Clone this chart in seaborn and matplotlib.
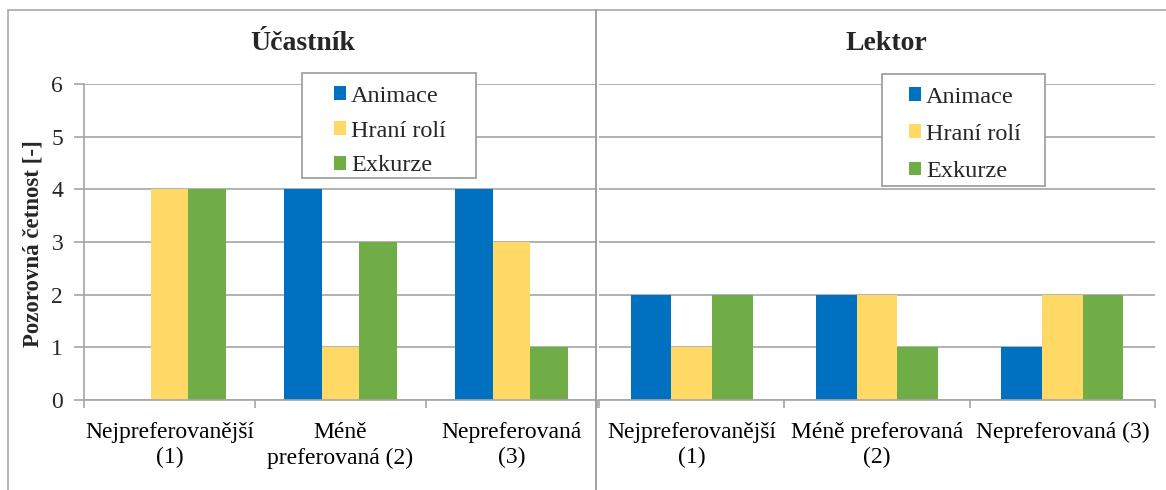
import matplotlib
matplotlib.use("Agg")
import matplotlib.pyplot as plt
import seaborn as sns
import pandas as pd
from matplotlib.lines import Line2D
from matplotlib.patches import Rectangle, Patch

# ---- data ----
series = ["Animace", "Hraní rolí", "Exkurze"]
left_categories = ["Nejpreferovanější\n(1)", "Méně\npreferovaná (2)", "Nepreferovaná\n(3)"]
right_categories = ["Nejpreferovanější\n(1)", "Méně preferovaná\n(2)", "Nepreferovaná (3)"]
ucastnik_animace = [0, 4, 4]
ucastnik_hrani = [4, 1, 3]
ucastnik_exkurze = [4, 3, 1]
lektor_animace = [2, 2, 1]
lektor_hrani = [1, 2, 2]
lektor_exkurze = [2, 1, 2]
titles = ["Účastník", "Lektor"]
ylabel = "Pozorovná četnost [-]"
yticks = [0, 1, 2, 3, 4, 5, 6]
colors = ["#0070C0", "#FFD966", "#70AD47"]


def long_df(cats, vals):
    rows = []
    for s, v in zip(series, vals):
        for c, x in zip(cats, v):
            rows.append({"kat": c, "serie": s, "hodnota": x})
    return pd.DataFrame(rows)


df_left = long_df(left_categories, [ucastnik_animace, ucastnik_hrani, ucastnik_exkurze])
df_right = long_df(right_categories, [lektor_animace, lektor_hrani, lektor_exkurze])

sns.set_theme(style="white")
plt.rcParams["font.family"] = ["Liberation Serif", "DejaVu Serif"]

W, H = 1166, 490
fig = plt.figure(figsize=(W / 100, H / 100), dpi=100)


def fx(px):
    return px / W


def fy(py):
    return 1 - py / H


grid_c = "#A6A6A6"
y_top, y_bot = 84, 400
axL = fig.add_axes([fx(84), fy(y_bot), fx(597) - fx(84), fy(y_top) - fy(y_bot)])
axR = fig.add_axes([fx(599), fy(y_bot), fx(1155) - fx(599), fy(y_top) - fy(y_bot)])

# legend frame boxes (x0, y0, x1, y1) in pixels, legend anchor (handle left, top), label spacing
legend_box = [(302, 73, 476, 178), (882, 74, 1045, 186)]
legend_anchor = [(334, 86), (909, 87)]
legend_spacing = [0.56, 0.66]
title_x = [303, 886]

for i, (ax, df, cats) in enumerate([(axL, df_left, left_categories),
                                     (axR, df_right, right_categories)]):
    sns.barplot(data=df, x="kat", y="hodnota", hue="serie", hue_order=series,
                order=cats, palette=colors, width=0.66, gap=0, saturation=1,
                ax=ax, legend=False, edgecolor="none", linewidth=0)
    ax.set_ylim(0, 6)
    ax.set_xlim(-0.5, 2.5)
    ax.set_yticks(yticks)
    ax.yaxis.grid(True, color=grid_c, linewidth=1.2)
    ax.set_axisbelow(True)
    ax.set_xlabel("")
    ax.set_ylabel("")
    for s in ["top", "right"]:
        ax.spines[s].set_visible(False)
    ax.spines["bottom"].set_color(grid_c)
    ax.spines["bottom"].set_linewidth(1.2)
    ax.set_xticks([0, 1, 2])
    ax.set_xticklabels(cats, fontsize=17, linespacing=1.3)
    ax.tick_params(axis="x", which="major", length=0, pad=15.5, colors="#000000")
    ax.set_xticks([-0.5, 0.5, 1.5, 2.5], minor=True)
    ax.tick_params(axis="x", which="minor", bottom=True, length=6, width=1.2, color=grid_c)
    ax.set_facecolor("white")

    bx0, by0, bx1, by1 = legend_box[i]
    ax.add_patch(Rectangle((fx(bx0), fy(by1)), fx(bx1) - fx(bx0), fy(by0) - fy(by1),
                           transform=fig.transFigure, facecolor="white", edgecolor="#9A9A9A",
                           linewidth=1.2, zorder=4, clip_on=False))
    handles = [Patch(facecolor=c, edgecolor="none", label=s) for c, s in zip(colors, series)]
    ax_x, ax_y = legend_anchor[i]
    leg = ax.legend(handles=handles, loc="upper left",
                    bbox_to_anchor=(fx(ax_x), fy(ax_y)), bbox_transform=fig.transFigure,
                    fontsize=17.5, frameon=False, handlelength=0.5, handleheight=0.5,
                    handletextpad=0.2, labelspacing=legend_spacing[i], borderpad=0,
                    borderaxespad=0)
    leg.set_zorder(6)
    fig.text(fx(title_x[i]), fy(44), titles[i], fontsize=20, fontweight="bold",
             ha="center", va="center")

axL.spines["left"].set_color(grid_c)
axL.spines["left"].set_linewidth(1.2)
axL.tick_params(axis="y", left=True, length=7, width=1.2, color=grid_c, labelsize=17, pad=8)
axR.spines["left"].set_visible(False)
axR.tick_params(axis="y", left=False, labelleft=False)

fig.text(fx(33), fy(244), ylabel, fontsize=16.5, fontweight="bold", rotation=90,
         ha="center", va="center")

# outer frame and divider
frame_c = "#B0B0B0"
fig.add_artist(Line2D([fx(8), fx(8)], [fy(10), 0], color=frame_c, lw=1.3, transform=fig.transFigure))
fig.add_artist(Line2D([fx(8), 1], [fy(10), fy(10)], color=frame_c, lw=1.3, transform=fig.transFigure))
fig.add_artist(Line2D([fx(596), fx(596)], [fy(10), 0], color="#9A9A9A", lw=1.3, transform=fig.transFigure))

fig.savefig("out.png", dpi=100, facecolor="white")
